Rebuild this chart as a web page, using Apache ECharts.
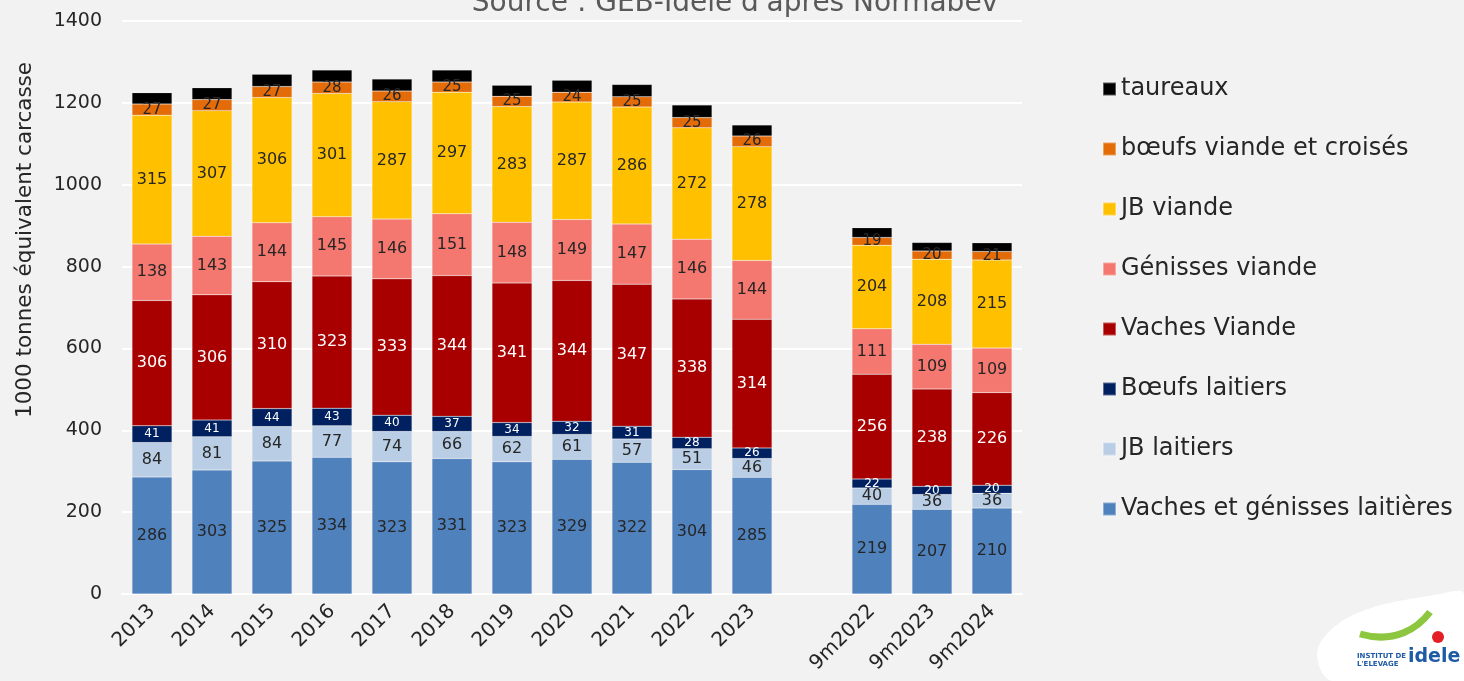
<!DOCTYPE html>
<html>
<head>
<meta charset="utf-8">
<script src="https://cdn.jsdelivr.net/npm/echarts@6/dist/echarts.min.js"></script>
<style>
  html, body { margin: 0; padding: 0; background: #f2f2f2; }
  #chart { width: 1464px; height: 681px; }
</style>
</head>
<body>
<div id="chart"></div>
<script>
// Categories (empty slot separates full years from 9-month totals)
const categories = ["2013", "2014", "2015", "2016", "2017", "2018", "2019", "2020", "2021", "2022", "2023", "", "9m2022", "9m2023", "9m2024"];

// Series values, 1000 tonnes équivalent carcasse
const vachesLaitieres = [286, 303, 325, 334, 323, 331, 323, 329, 322, 304, 285, "-", 219, 207, 210];
const jbLaitiers = [84, 81, 84, 77, 74, 66, 62, 61, 57, 51, 46, "-", 40, 36, 36];
const boeufsLaitiers = [41, 41, 44, 43, 40, 37, 34, 32, 31, 28, 26, "-", 22, 20, 20];
const vachesViande = [306, 306, 310, 323, 333, 344, 341, 344, 347, 338, 314, "-", 256, 238, 226];
const genissesViande = [138, 143, 144, 145, 146, 151, 148, 149, 147, 146, 144, "-", 111, 109, 109];
const jbViande = [315, 307, 306, 301, 287, 297, 283, 287, 286, 272, 278, "-", 204, 208, 215];
const boeufsViande = [27, 27, 27, 28, 26, 25, 25, 24, 25, 25, 26, "-", 19, 20, 21];
const taureaux = [28, 29, 30, 29, 29, 29, 27, 29, 30, 31, 27, "-", 24, 21, 21];

const FONT = "'DejaVu Sans', sans-serif";

const chart = echarts.init(document.getElementById("chart"));

function layer(name, data, color, labelColor, labelSize) {
  return {
    name: name,
    type: "bar",
    stack: "total",
    data: data,
    barWidth: 40,
    itemStyle: { color: color, borderColor: "rgba(255,255,255,0.35)", borderWidth: 0.5 },
    label: labelSize
      ? {
          show: true,
          position: "inside",
          color: labelColor,
          fontSize: labelSize,
          fontFamily: FONT,
        }
      : { show: false },
    emphasis: { disabled: true },
  };
}

const option = {
  backgroundColor: "#f2f2f2",
  animation: false,
  title: {
    text: "Source : GEB-Idele d'après Normabev",
    left: 730,
    textAlign: "center",
    top: -15,
    textStyle: { color: "#595959", fontSize: 28, fontWeight: "normal", fontFamily: FONT },
  },
  grid: { left: 122, right: 442, top: 21, bottom: 87 },
  legend: {
    orient: "vertical",
    left: 1102,
    top: 74,
    padding: 0,
    itemWidth: 13,
    itemHeight: 13,
    itemGap: 30,
    icon: "rect",
    textStyle: { color: "#262626", fontSize: 24, fontFamily: FONT, lineHeight: 30 },
    data: [
      "taureaux",
      "bœufs viande et croisés",
      "JB viande",
      "Génisses viande",
      "Vaches Viande",
      "Bœufs laitiers",
      "JB laitiers",
      "Vaches et génisses laitières",
    ],
  },
  xAxis: {
    type: "category",
    data: categories,
    axisLine: { lineStyle: { color: "#ffffff", width: 2 } },
    axisTick: { show: false },
    axisLabel: {
      color: "#262626",
      fontSize: 20,
      fontFamily: FONT,
      rotate: 45,
      interval: 0,
      margin: 14,
    },
  },
  yAxis: {
    type: "value",
    min: 0,
    max: 1400,
    interval: 200,
    axisLine: { show: false },
    axisTick: { show: false },
    axisLabel: {
      color: "#262626",
      fontSize: 19,
      fontFamily: FONT,
      margin: 20,
      formatter: (v) => String(v),
    },
    splitLine: { lineStyle: { color: "#ffffff", width: 2 } },
  },
  series: [
    layer("Vaches et génisses laitières", vachesLaitieres, "#4f81bd", "#262626", 16),
    layer("JB laitiers", jbLaitiers, "#b9cde5", "#262626", 16),
    layer("Bœufs laitiers", boeufsLaitiers, "#002060", "#ffffff", 12),
    layer("Vaches Viande", vachesViande, "#a80000", "#ffffff", 16),
    layer("Génisses viande", genissesViande, "#f4786f", "#262626", 16),
    layer("JB viande", jbViande, "#ffc000", "#262626", 16),
    layer("bœufs viande et croisés", boeufsViande, "#e36c09", "#262626", 15),
    layer("taureaux", taureaux, "#000000", "#ffffff", 0),
  ],
  graphic: [
    {
      type: "text",
      x: 25,
      y: 240,
      rotation: Math.PI / 2,
      style: {
        text: "1000 tonnes équivalent carcasse",
        fill: "#262626",
        font: "21.5px " + FONT,
        textAlign: "center",
        textVerticalAlign: "middle",
      },
      silent: true,
    },
    {
      type: "polygon",
      shape: { points: [[1332, 681], [1318, 648], [1355, 614], [1440, 594], [1464, 594], [1464, 681]], smooth: 0.35 },
      style: { fill: "#ffffff" },
      silent: true,
    },
    {
      type: "bezierCurve",
      shape: { x1: 1360, y1: 634, x2: 1430, y2: 612, cpx1: 1395, cpy1: 644, cpx2: 1418, cpy2: 628 },
      style: { stroke: "#8dc63f", lineWidth: 7, fill: null },
      silent: true,
    },
    {
      type: "text",
      left: 1357,
      top: 652,
      style: { text: "INSTITUT DE\nL'ELEVAGE", fill: "#1f5aa6", font: "bold 7px " + FONT, lineHeight: 8 },
      silent: true,
    },
    {
      type: "text",
      left: 1408,
      top: 648,
      style: { text: "idele", fill: "#1f5aa6", font: "bold 19px " + FONT },
      silent: true,
    },
    {
      type: "circle",
      shape: { cx: 1438, cy: 637, r: 6 },
      style: { fill: "#e31e24" },
      silent: true,
    },
  ],
};

chart.setOption(option);
</script>
</body>
</html>
